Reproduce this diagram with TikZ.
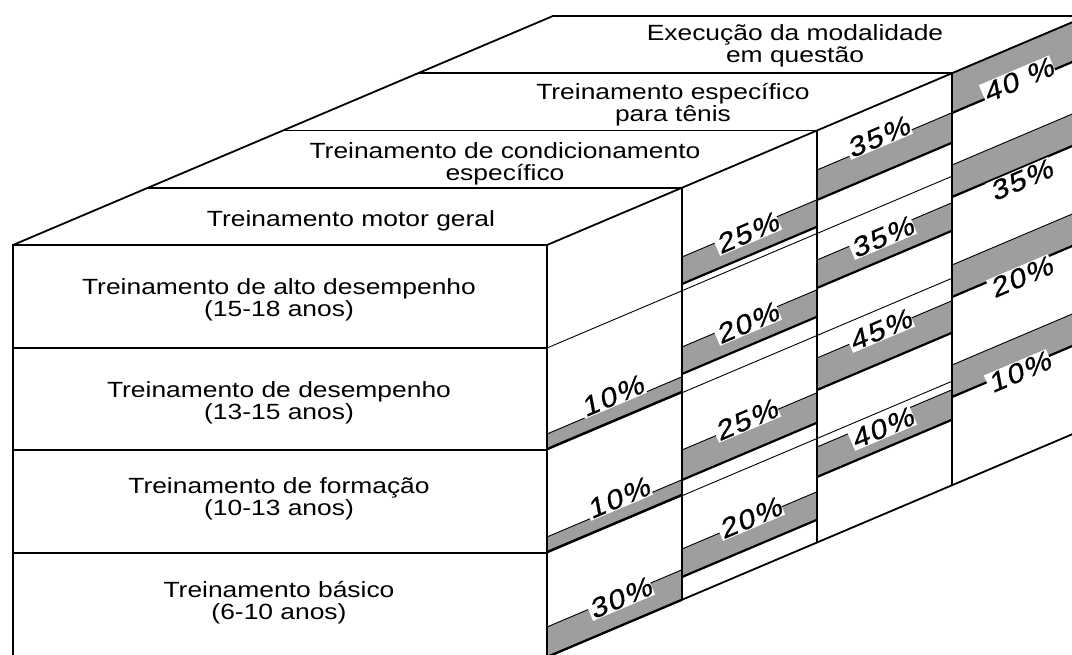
\documentclass[tikz,border=0pt]{standalone}
\usepackage{fontspec}
\setmainfont{Liberation Sans}
\newfontfamily\boxfont[FakeStretch=1.2]{Liberation Sans}
\newfontfamily\pctfont[FakeStretch=1.15,FakeSlant=0.22,FakeBold=0.6,LetterSpace=6]{Liberation Sans}
\usetikzlibrary{backgrounds}

\tikzset{
  edge/.style={line width=1.8pt},
  colline/.style={line width=2.6pt},
  rowline/.style={line width=0.9pt},
  bandedge/.style={line width=2.2pt},
  band/.style={fill=black!38},
  phase/.style={font=\boxfont\fontsize{22}{22}\selectfont, align=center, inner sep=0pt},
  pct/.style={font=\pctfont\fontsize{27}{27}\selectfont, rotate=23, fill=white, inner sep=1pt},
}

\begin{document}
\begin{tikzpicture}[x=1pt, y=-1pt]
    \useasboundingbox (0,0) rectangle (1072,655);

    % Corners
    \coordinate (fl) at (13,245);
    \coordinate (fr) at (547,245);
    \coordinate (bl) at (13,657);
    \coordinate (br) at (547,657);
    \coordinate (tl) at (553,16);
    \coordinate (tr) at (1087,16);
    \coordinate (dr) at (1087,428);

    % Bands
    \foreach \c/\yb/\h in {0/449/15, 0/552/15, 0/657/30,
                           1/284/27, 1/374/27, 1/480/30, 1/577/28,
                           2/200/30, 2/288/28, 2/390/32, 2/477/30,
                           3/113/40, 3/197/32, 3/297/32, 3/397/32}{
      \pgfmathsetmacro{\xl}{547+135*\c}
      \pgfmathsetmacro{\xr}{\xl+135}
      \pgfmathsetmacro{\yr}{\yb-57.25}
      \begin{scope}[on background layer]
        \fill[band] (\xl,\yb) -- (\xr,\yr) -- (\xr,\yr-\h) -- (\xl,\yb-\h) -- cycle;
      \end{scope}
      \draw[bandedge] (\xl,\yb) -- (\xr,\yr);
      \draw[rowline] (\xl,\yb-\h) -- (\xr,\yr-\h);
    }

    % Front face
    \draw[edge] (bl) -- (fl) -- (fr) -- (br);
    \foreach \y in {348,450,553}
      \draw[edge] (13,\y) -- (547,\y);

    % Top face
    \draw[edge] (fl) -- (tl) -- (tr);
    \foreach \k in {1,2,3}
      \draw[edge] ({13+135*\k},{245-57.25*\k}) -- ({547+135*\k},{245-57.25*\k});

    % Side face
    \draw[edge] (fr) -- (tr);
    \draw[edge] (br) -- (dr);
    \foreach \y in {348,450,553}
      \draw[rowline] (547,\y) -- (952,{\y-171.75});
    \draw[colline] (fr) -- (br);
    \foreach \k in {1,2,3}
      \draw[colline] ({547+135*\k},{245-57.25*\k}) -- ({547+135*\k},{657-57.25*\k});

    % Phases
    \node[phase] (motor) at (351,221) {Treinamento motor geral};
    \node[phase] (cond) at (505,164) {Treinamento de condicionamento\\específico};
    \node[phase] (tenis) at (673,105) {Treinamento específico\\para tênis};
    \node[phase] (exec) at (795,46) {Execução da modalidade\\em questão};
    \node[phase] (alto) at (279,300) {Treinamento de alto desempenho\\(15-18 anos)};
    \node[phase] (desemp) at (279,403) {Treinamento de desempenho\\(13-15 anos)};
    \node[phase] (formacao) at (279,499) {Treinamento de formação\\(10-13 anos)};
    \node[phase] (basico) at (279,603) {Treinamento básico\\(6-10 anos)};

    % Percentages
    \foreach \n/\x/\y/\t in {a/612/396/10\%, b/618/498/10\%, c/620/598/30\%,
                             d/747/233/25\%, e/747/323/20\%, f/746/420/25\%, g/750/518/20\%,
                             h/878/137/35\%, i/882/237/35\%, j/880/330/45\%, k/882/428/40\%,
                             l/1018/80/40 \%, m/1021/180/35\%, n/1021/277/20\%, o/1019/372/10\%}
      \node[pct] (pct\n) at (\x,\y) {\t};

\end{tikzpicture}
\end{document}
